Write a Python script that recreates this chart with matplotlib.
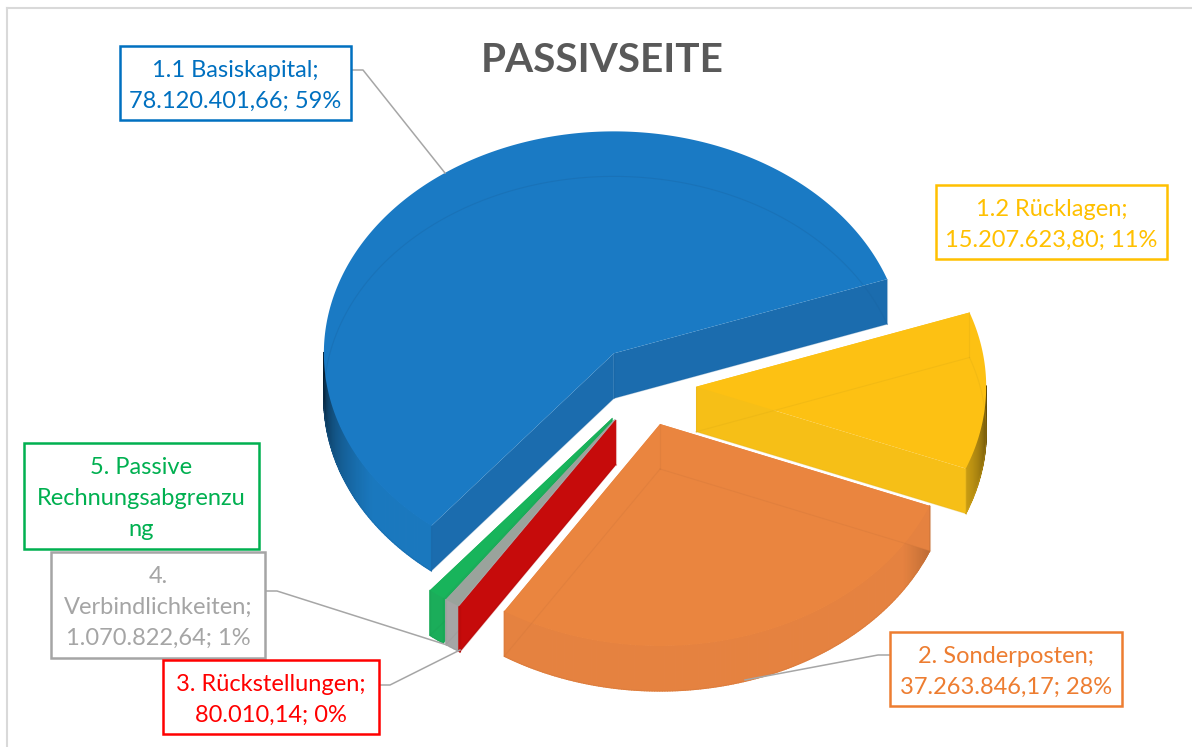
import numpy as np
import matplotlib
matplotlib.use("Agg")
import matplotlib.pyplot as plt
from matplotlib.collections import PolyCollection
from matplotlib.colors import to_rgb

plt.rcParams['font.family'] = ['Lato', 'DejaVu Sans']

# data, in the order the pie runs (clockwise)
categories = ["1.1 Basiskapital", "1.2 Rücklagen", "2. Sonderposten",
              "3. Rückstellungen", "4. Verbindlichkeiten", "5. Passive Rechnungsabgrenzung"]
values = [78120401.66, 15207623.80, 37263846.17, 80010.14, 1070822.64, 1250000.0]  # last one estimated
top_colors = ["#1A7AC4", "#FDC113", "#EA853F", "#C60B0B", "#9AA39C", "#18B45B"]
face_colors = ["#1B6CAE", "#F6BF17", "#E58240", "#C60B0B", "#A5A5A5", "#1BAD5A"]
wall_colors = ["#1A78BE", "#F6BF17", "#E58240", "#C60B0B", "#A5A5A5", "#1BAD5A"]

# pie geometry in picture pixels
cx, cy = 644, 386
rx, ry = 290, 222
depth = 45
explode = 0.18
start_t = 231.0

fig = plt.figure(figsize=(11.92, 7.47), dpi=100)
ax = fig.add_axes([0, 0, 1, 1])
ax.set_xlim(0, 1192)
ax.set_ylim(747, 0)
ax.axis('off')


def ring(t, ox, oy, z=0):
    t = np.radians(t)
    return np.column_stack([ox + rx * np.cos(t), oy - ry * np.sin(t) + z])


def wall_shade(t):
    s = abs(np.sin(np.radians(t)))
    return 0.25 + 0.75 * min(1, s / 0.55) ** 0.7


def darker(col, f):
    return tuple(c * f for c in to_rgb(col))


def draw_slice(t1, t2, top, face, wall, zo):
    # t1 > t2, the slice runs clockwise from t1 to t2
    mid = np.radians((t1 + t2) / 2)
    ox = cx + explode * rx * np.cos(mid)
    oy = cy - explode * ry * np.sin(mid)
    ts = np.linspace(t1, t2, max(int(t1 - t2) * 2, 4))
    arc = ring(ts, ox, oy)
    arc_low = ring(ts, ox, oy, depth)
    apex = np.array([[ox, oy]])
    apex_low = np.array([[ox, oy + depth]])

    # outer wall, front part only
    quads, cols = [], []
    for i in range(len(ts) - 1):
        tm = (ts[i] + ts[i + 1]) / 2
        if np.sin(np.radians(tm)) < 0:
            quads.append([arc[i], arc[i + 1], arc_low[i + 1], arc_low[i]])
            cols.append(darker(wall, wall_shade(tm)))
    if quads:
        ax.add_collection(PolyCollection(quads, facecolors=cols, edgecolors=cols, lw=0.9, zorder=zo + 0.1))

    # cut faces
    for k in (0, -1):
        pts = [apex[0], arc[k], arc_low[k], apex_low[0]]
        ax.fill(*np.array(pts).T, color=face, lw=0, zorder=zo + 0.2)

    # top
    ax.fill(*np.vstack([apex, arc]).T, color=top, lw=0, zorder=zo + 0.3)

    # hidden edges shine through faintly
    edge = darker(face, 0.9)
    lines = [arc_low,
             np.vstack([apex_low, arc_low[0]]),
             np.vstack([apex_low, arc_low[-1]]),
             np.vstack([arc[0], arc_low[0]]),
             np.vstack([arc[-1], arc_low[-1]]),
             np.vstack([apex, apex_low])]
    for ln in lines:
        ax.plot(ln[:, 0], ln[:, 1], color=edge, lw=0.8, alpha=0.3, zorder=zo + 0.4)


angles = np.array(values) / sum(values) * 360
t_starts = start_t - np.concatenate([[0], np.cumsum(angles)[:-1]])
t_ends = t_starts - angles
# back slices first
for i, zo in zip([0, 1, 5, 4, 3, 2], [2, 3, 4, 5, 6, 7]):
    draw_slice(t_starts[i], t_ends[i], top_colors[i], face_colors[i], wall_colors[i], zo)

# chart frame
ax.plot([7, 7], [747, 8], color="#D9D9D9", lw=1.5, zorder=1)
ax.plot([7, 1192], [8, 8], color="#D9D9D9", lw=1.5, zorder=1)

ax.text(602.5, 60, "PASSIVSEITE", color="#595959", fontsize=29.2, fontweight='bold',
        ha='center', va='center', zorder=10)

# leader lines
leaders = [([351, 363, 445], [70, 70, 173]),
           ([265, 277, 447], [591, 591, 645]),
           ([379, 390, 460], [685, 685, 650]),
           ([890, 878, 745], [655, 655, 680])]
for lx, ly in leaders:
    ax.plot(lx, ly, color="#A6A6A6", lw=1.1, zorder=9)

# data labels
boxes = [("1.1 Basiskapital;\n78.120.401,66; 59%", 120, 46, 351, 120, "#0070C0"),
         ("1.2 Rücklagen;\n15.207.623,80; 11%", 936, 185, 1167, 259, "#FFC000"),
         ("5. Passive\nRechnungsabgrenzu\nng", 24, 443, 259, 549, "#00B050"),
         ("4.\nVerbindlichkeiten;\n1.070.822,64; 1%", 51, 552, 265, 658, "#A5A5A5"),
         ("3. Rückstellungen;\n80.010,14; 0%", 163, 660, 379, 734, "#FF0000"),
         ("2. Sonderposten;\n37.263.846,17; 28%", 890, 632, 1122, 706, "#ED7D31")]
for txt, x0, y0, x1, y1, col in boxes:
    ax.fill([x0, x1, x1, x0, x0], [y0, y0, y1, y1, y0], facecolor="white", edgecolor=col, lw=1.8, zorder=11)
    ax.text((x0 + x1) / 2, (y0 + y1) / 2 + 2.5, txt, color=col, fontsize=17, ha='center', va='center',
            linespacing=1.58, zorder=12)

fig.savefig("out.png", dpi=100)
